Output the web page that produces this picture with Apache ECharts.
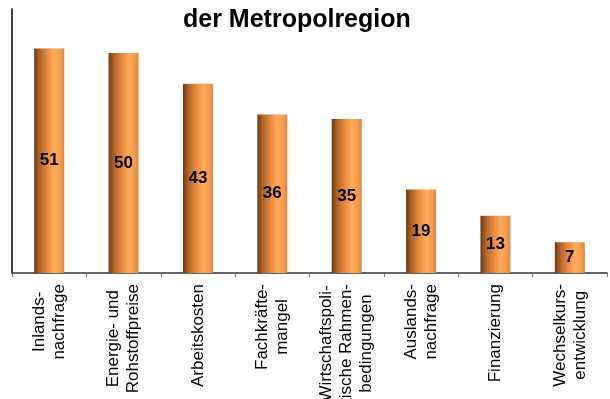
<!DOCTYPE html>
<html>
<head>
<meta charset="utf-8">
<style>
  html, body { margin: 0; padding: 0; background: #ffffff; }
  #chart { width: 610px; height: 399px; }
</style>
<script src="https://cdn.jsdelivr.net/npm/echarts@6/dist/echarts.min.js"></script>
</head>
<body>
<div id="chart"></div>
<script>
// Factors named by firms in the metropolitan region (share of mentions)
const categories = [
  'Inlands-\nnachfrage',
  'Energie- und\nRohstoffpreise',
  'Arbeitskosten',
  'Fachkräfte-\nmangel',
  'Wirtschaftspoli-\ntische Rahmen-\nbedingungen',
  'Auslands-\nnachfrage',
  'Finanzierung',
  'Wechselkurs-\nentwicklung'
];
const values = [51, 50, 43, 36, 35, 19, 13, 7];
const titleText = 'der Metropolregion';

const FONT = '"Liberation Sans", Arial, Helvetica, sans-serif';

const chart = echarts.init(document.getElementById('chart'), null, { renderer: 'canvas' });

// Cylinder-like shading across each bar
const barGradient = new echarts.graphic.LinearGradient(0, 0, 1, 0, [
  { offset: 0.00, color: '#6e3a14' },
  { offset: 0.18, color: '#b0642a' },
  { offset: 0.45, color: '#e98b3f' },
  { offset: 0.68, color: '#ffac5c' },
  { offset: 0.88, color: '#f59a4c' },
  { offset: 1.00, color: '#d98840' }
]);

chart.setOption({
  animation: false,
  backgroundColor: '#ffffff',
  title: {
    text: titleText,
    left: 178,
    top: 3,
    textStyle: {
      fontFamily: FONT,
      fontWeight: 'bold',
      fontSize: 25,
      color: '#000000'
    }
  },
  grid: {
    left: 12,
    right: 3,
    top: 9,
    bottom: 126,
    containLabel: false,
    outerBoundsMode: 'none'
  },
  xAxis: {
    type: 'category',
    data: categories,
    axisLine: { show: true, lineStyle: { color: '#333333', width: 1.5 } },
    axisTick: { show: true, alignWithLabel: false, length: 4, lineStyle: { color: '#777777' } },
    axisLabel: {
      interval: 0,
      rotate: 90,
      margin: 11,
      color: '#000000',
      fontFamily: FONT,
      fontSize: 17,
      lineHeight: 20,
      formatter: function (v) {
        return v.split('\n').map(function (l) { return '{c|' + l + '}'; }).join('\n');
      },
      rich: {
        c: {
          align: 'center',
          fontFamily: FONT,
          fontSize: 17,
          lineHeight: 20,
          color: '#000000'
        }
      }
    }
  },
  yAxis: {
    type: 'value',
    min: 0,
    max: 60,
    axisLine: { show: true, lineStyle: { color: '#000000', width: 1.5 } },
    axisTick: { show: false },
    axisLabel: { show: false },
    splitLine: { show: false }
  },
  series: [{
    type: 'bar',
    data: values,
    barWidth: 30,
    itemStyle: { color: barGradient },
    label: {
      show: true,
      position: 'inside',
      color: '#000000',
      fontFamily: FONT,
      fontWeight: 'bold',
      fontSize: 17
    }
  }]
});
</script>
</body>
</html>
